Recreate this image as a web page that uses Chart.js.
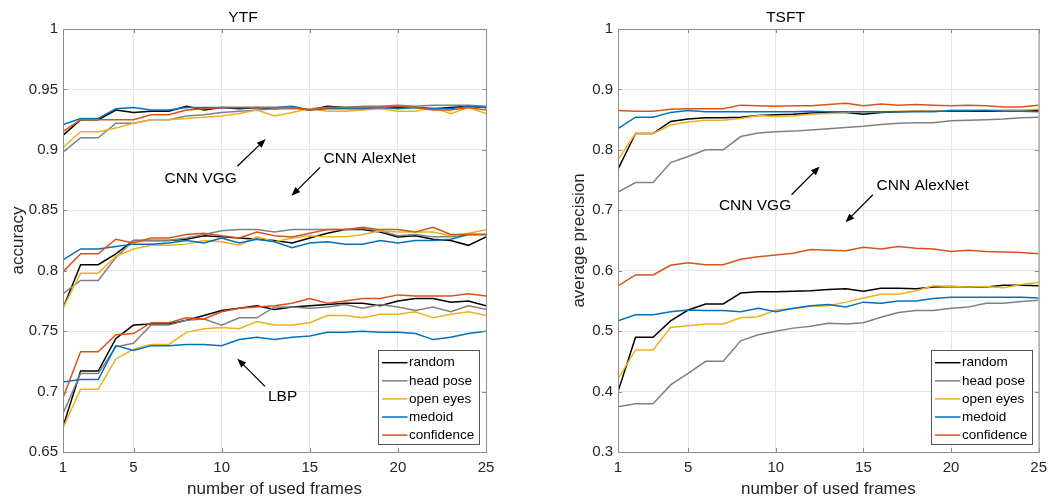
<!DOCTYPE html>
<html>
<head>
<meta charset="utf-8">
<script src="https://cdn.jsdelivr.net/npm/chart.js@4.4.1/dist/chart.umd.min.js"></script>
<style>
  html, body { margin: 0; padding: 0; background: #fff; }
  #wrap { position: relative; width: 1054px; height: 498px; }
  #ytf { position: absolute; left: 0; top: 0; }
  #tsft { position: absolute; left: 530px; top: 0; }
</style>
</head>
<body>
<div id="wrap">
  <canvas id="ytf" width="530" height="498"></canvas>
  <canvas id="tsft" width="524" height="498"></canvas>
</div>
<script>
// x axis: number of used frames
const frames = [1, 2, 3, 4, 5, 6, 7, 8, 9, 10, 11, 12, 13, 14, 15, 16, 17, 18, 19, 20, 21, 22, 23, 24, 25];
const methods = ['random', 'head pose', 'open eyes', 'medoid', 'confidence'];
const xTicks = [1, 5, 10, 15, 20, 25];
const ytfTicks = [0.65, 0.7, 0.75, 0.8, 0.85, 0.9, 0.95, 1];
const tsftTicks = [0.3, 0.4, 0.5, 0.6, 0.7, 0.8, 0.9, 1];

// YTF accuracy, CNN VGG
const ytfVggRandom = [0.912, 0.925, 0.925, 0.933, 0.931, 0.932, 0.932, 0.936, 0.933, 0.935, 0.934, 0.935, 0.934, 0.935, 0.933, 0.936, 0.935, 0.935, 0.935, 0.935, 0.935, 0.934, 0.935, 0.936, 0.935];
const ytfVggHeadPose = [0.898, 0.910, 0.910, 0.922, 0.922, 0.925, 0.925, 0.928, 0.929, 0.931, 0.932, 0.933, 0.934, 0.934, 0.934, 0.935, 0.935, 0.936, 0.936, 0.937, 0.936, 0.937, 0.937, 0.937, 0.936];
const ytfVggOpenEyes = [0.902, 0.915, 0.915, 0.918, 0.922, 0.925, 0.925, 0.926, 0.927, 0.928, 0.930, 0.933, 0.928, 0.931, 0.934, 0.932, 0.932, 0.933, 0.934, 0.932, 0.932, 0.935, 0.930, 0.935, 0.930];
const ytfVggMedoid = [0.921, 0.926, 0.926, 0.934, 0.935, 0.933, 0.933, 0.935, 0.935, 0.935, 0.935, 0.935, 0.935, 0.936, 0.933, 0.934, 0.934, 0.934, 0.935, 0.934, 0.935, 0.934, 0.934, 0.936, 0.935];
const ytfVggConfidence = [0.915, 0.925, 0.925, 0.925, 0.925, 0.929, 0.929, 0.933, 0.934, 0.935, 0.935, 0.935, 0.935, 0.935, 0.933, 0.935, 0.935, 0.935, 0.935, 0.936, 0.935, 0.933, 0.933, 0.935, 0.933];

// YTF accuracy, CNN AlexNet
const ytfAlexRandom = [0.769, 0.805, 0.805, 0.814, 0.825, 0.825, 0.825, 0.826, 0.829, 0.828, 0.827, 0.826, 0.825, 0.823, 0.827, 0.831, 0.834, 0.834, 0.832, 0.828, 0.829, 0.826, 0.825, 0.821, 0.828];
const ytfAlexHeadPose = [0.781, 0.792, 0.792, 0.811, 0.825, 0.825, 0.825, 0.827, 0.830, 0.833, 0.834, 0.834, 0.832, 0.834, 0.834, 0.834, 0.834, 0.835, 0.833, 0.829, 0.830, 0.828, 0.828, 0.830, 0.830];
const ytfAlexOpenEyes = [0.769, 0.798, 0.798, 0.812, 0.818, 0.821, 0.821, 0.822, 0.825, 0.824, 0.821, 0.828, 0.824, 0.827, 0.829, 0.828, 0.828, 0.830, 0.833, 0.832, 0.832, 0.832, 0.829, 0.831, 0.834];
const ytfAlexMedoid = [0.809, 0.818, 0.818, 0.820, 0.822, 0.822, 0.823, 0.825, 0.823, 0.827, 0.823, 0.826, 0.824, 0.819, 0.823, 0.824, 0.822, 0.822, 0.825, 0.823, 0.825, 0.825, 0.826, 0.830, 0.830];
const ytfAlexConfidence = [0.799, 0.814, 0.814, 0.826, 0.823, 0.827, 0.827, 0.830, 0.831, 0.829, 0.827, 0.832, 0.829, 0.828, 0.831, 0.834, 0.834, 0.836, 0.834, 0.834, 0.832, 0.836, 0.830, 0.830, 0.830];

// YTF accuracy, LBP
const ytfLbpRandom = [0.671, 0.717, 0.717, 0.744, 0.755, 0.756, 0.756, 0.759, 0.763, 0.767, 0.769, 0.771, 0.768, 0.770, 0.771, 0.772, 0.773, 0.773, 0.771, 0.775, 0.777, 0.777, 0.774, 0.775, 0.771];
const ytfLbpHeadPose = [0.682, 0.715, 0.715, 0.737, 0.740, 0.755, 0.755, 0.759, 0.760, 0.755, 0.761, 0.761, 0.770, 0.770, 0.769, 0.770, 0.772, 0.769, 0.772, 0.770, 0.767, 0.770, 0.766, 0.771, 0.768];
const ytfLbpOpenEyes = [0.670, 0.702, 0.702, 0.727, 0.735, 0.739, 0.739, 0.749, 0.752, 0.753, 0.752, 0.758, 0.755, 0.755, 0.757, 0.763, 0.763, 0.761, 0.764, 0.764, 0.766, 0.761, 0.764, 0.766, 0.763];
const ytfLbpMedoid = [0.708, 0.710, 0.710, 0.738, 0.734, 0.738, 0.738, 0.739, 0.739, 0.738, 0.743, 0.745, 0.743, 0.745, 0.746, 0.749, 0.749, 0.750, 0.749, 0.749, 0.748, 0.743, 0.745, 0.748, 0.750];
const ytfLbpConfidence = [0.695, 0.733, 0.733, 0.747, 0.748, 0.757, 0.757, 0.761, 0.760, 0.766, 0.769, 0.770, 0.771, 0.773, 0.777, 0.773, 0.775, 0.777, 0.777, 0.780, 0.779, 0.779, 0.779, 0.781, 0.779];

// TSFT average precision, CNN VGG
const tsftVggRandom = [0.768, 0.827, 0.827, 0.847, 0.851, 0.853, 0.853, 0.854, 0.857, 0.858, 0.859, 0.861, 0.862, 0.862, 0.859, 0.862, 0.863, 0.864, 0.864, 0.864, 0.864, 0.864, 0.864, 0.864, 0.865];
const tsftVggHeadPose = [0.730, 0.746, 0.746, 0.779, 0.789, 0.800, 0.800, 0.822, 0.828, 0.830, 0.831, 0.833, 0.835, 0.837, 0.839, 0.842, 0.844, 0.845, 0.845, 0.848, 0.849, 0.850, 0.851, 0.853, 0.854];
const tsftVggOpenEyes = [0.784, 0.827, 0.827, 0.841, 0.846, 0.849, 0.849, 0.852, 0.857, 0.855, 0.856, 0.859, 0.860, 0.862, 0.863, 0.863, 0.864, 0.864, 0.864, 0.865, 0.865, 0.866, 0.866, 0.866, 0.867];
const tsftVggMedoid = [0.835, 0.854, 0.854, 0.862, 0.865, 0.863, 0.863, 0.863, 0.863, 0.863, 0.863, 0.864, 0.863, 0.863, 0.863, 0.863, 0.863, 0.863, 0.863, 0.865, 0.865, 0.865, 0.864, 0.864, 0.863];
const tsftVggConfidence = [0.865, 0.864, 0.864, 0.867, 0.868, 0.868, 0.868, 0.874, 0.873, 0.872, 0.873, 0.873, 0.875, 0.877, 0.873, 0.876, 0.874, 0.875, 0.874, 0.873, 0.874, 0.873, 0.871, 0.871, 0.874];

// TSFT average precision, CNN AlexNet
const tsftAlexRandom = [0.400, 0.490, 0.490, 0.517, 0.535, 0.545, 0.545, 0.563, 0.565, 0.565, 0.566, 0.567, 0.569, 0.570, 0.566, 0.571, 0.571, 0.570, 0.573, 0.574, 0.573, 0.573, 0.576, 0.576, 0.575];
const tsftAlexHeadPose = [0.375, 0.380, 0.380, 0.411, 0.430, 0.450, 0.450, 0.484, 0.494, 0.500, 0.505, 0.508, 0.513, 0.512, 0.514, 0.523, 0.531, 0.534, 0.534, 0.538, 0.540, 0.546, 0.546, 0.549, 0.551];
const tsftAlexOpenEyes = [0.421, 0.469, 0.469, 0.506, 0.509, 0.512, 0.512, 0.522, 0.524, 0.535, 0.537, 0.541, 0.542, 0.548, 0.555, 0.561, 0.561, 0.567, 0.575, 0.574, 0.573, 0.574, 0.572, 0.577, 0.581];
const tsftAlexMedoid = [0.517, 0.527, 0.527, 0.532, 0.535, 0.534, 0.534, 0.532, 0.538, 0.532, 0.538, 0.542, 0.544, 0.540, 0.548, 0.546, 0.550, 0.550, 0.554, 0.556, 0.556, 0.556, 0.556, 0.556, 0.555];
const tsftAlexConfidence = [0.575, 0.593, 0.593, 0.609, 0.613, 0.610, 0.610, 0.619, 0.623, 0.626, 0.629, 0.635, 0.634, 0.633, 0.639, 0.636, 0.640, 0.637, 0.636, 0.632, 0.634, 0.632, 0.631, 0.630, 0.628];

// line colours per method (MATLAB-like palette)
const methodColors = ['#000000', '#808080', '#EDB120', '#0072BD', '#D95319'];
const FONT = "'Liberation Sans', Arial, Helvetica, sans-serif";
const TEXT = '#262626';
const AXIS = '#8c8c8c';

// one dataset per (group, method); confidence is drawn last so it sits on top
function buildDatasets(groups) {
  const sets = [];
  groups.forEach(group => {
    group.forEach((values, m) => {
      sets.push({
        label: methods[m],
        data: frames.map((f, i) => ({ x: f, y: values[i] })),
        borderColor: methodColors[m],
        backgroundColor: methodColors[m],
        borderWidth: 1.5,
        pointRadius: 0,
        tension: 0,
        fill: false,
        order: methods.length - 1 - m,
      });
    });
  });
  return sets;
}

function drawArrow(ctx, x0, y0, x1, y1) {
  const a = Math.atan2(y1 - y0, x1 - x0);
  const len = 9, half = 3.5;
  ctx.beginPath();
  ctx.moveTo(x0, y0);
  ctx.lineTo(x1 - Math.cos(a) * len * 0.7, y1 - Math.sin(a) * len * 0.7);
  ctx.stroke();
  ctx.beginPath();
  ctx.moveTo(x1, y1);
  ctx.lineTo(x1 - len * Math.cos(a) + half * Math.sin(a), y1 - len * Math.sin(a) - half * Math.cos(a));
  ctx.lineTo(x1 - len * Math.cos(a) - half * Math.sin(a), y1 - len * Math.sin(a) + half * Math.cos(a));
  ctx.closePath();
  ctx.fill();
}

// boxed axes with inward tick marks, like MATLAB's "box on"
const axesBox = {
  id: 'axesBox',
  afterDatasetsDraw(chart) {
    const { ctx, chartArea: a, scales: { x, y } } = chart;
    ctx.save();
    ctx.strokeStyle = AXIS;
    ctx.lineWidth = 1;
    ctx.strokeRect(a.left + 0.5, a.top + 0.5, a.right - a.left, a.bottom - a.top);
    ctx.beginPath();
    x.ticks.forEach(t => {
      const px = Math.round(x.getPixelForValue(t.value)) + 0.5;
      ctx.moveTo(px, a.bottom); ctx.lineTo(px, a.bottom - 4);
      ctx.moveTo(px, a.top); ctx.lineTo(px, a.top + 4);
    });
    y.ticks.forEach(t => {
      const py = Math.round(y.getPixelForValue(t.value)) + 0.5;
      ctx.moveTo(a.left, py); ctx.lineTo(a.left + 4, py);
      ctx.moveTo(a.right, py); ctx.lineTo(a.right - 4, py);
    });
    ctx.stroke();
    ctx.restore();
  }
};

// text labels with arrows pointing at the curve groups, in data coordinates
const groupNotes = {
  id: 'groupNotes',
  afterDraw(chart, args, opts) {
    const { ctx, scales: { x, y } } = chart;
    ctx.save();
    ctx.fillStyle = '#000';
    ctx.strokeStyle = '#000';
    ctx.lineWidth = 1.3;
    ctx.font = '15.5px ' + FONT;
    ctx.textAlign = 'center';
    ctx.textBaseline = 'middle';
    (opts.notes || []).forEach(n => {
      ctx.fillText(n.text, x.getPixelForValue(n.at[0]), y.getPixelForValue(n.at[1]));
      drawArrow(ctx,
        x.getPixelForValue(n.from[0]), y.getPixelForValue(n.from[1]),
        x.getPixelForValue(n.to[0]), y.getPixelForValue(n.to[1]));
    });
    ctx.restore();
  }
};

// legend box in the lower right corner of the axes
const cornerLegend = {
  id: 'cornerLegend',
  afterDraw(chart) {
    const { ctx, chartArea: a } = chart;
    const w = 101, h = 94, rowH = 18.1;
    const left = Math.round(a.right - 7 - w), top = Math.round(a.bottom - 8 - h);
    ctx.save();
    ctx.fillStyle = '#fff';
    ctx.fillRect(left, top, w, h);
    ctx.strokeStyle = '#555';
    ctx.lineWidth = 1;
    ctx.strokeRect(left + 0.5, top + 0.5, w, h);
    ctx.font = '13.5px ' + FONT;
    ctx.textBaseline = 'middle';
    ctx.textAlign = 'left';
    methods.forEach((name, i) => {
      const cy = top + 12.7 + i * rowH;
      ctx.strokeStyle = methodColors[i];
      ctx.lineWidth = 1.5;
      ctx.beginPath();
      ctx.moveTo(left + 4, cy);
      ctx.lineTo(left + 29.5, cy);
      ctx.stroke();
      ctx.fillStyle = '#000';
      ctx.fillText(name, left + 31, cy);
    });
    ctx.restore();
  }
};

function makePanel(id, title, yLabel, yTicks, groups, notes, yWidth, yTitlePad, rightPad) {
  return new Chart(document.getElementById(id), {
    type: 'line',
    data: { datasets: buildDatasets(groups) },
    plugins: [axesBox, groupNotes, cornerLegend],
    options: {
      responsive: false,
      animation: false,
      devicePixelRatio: 1,
      layout: { padding: { top: 0, left: 0, right: rightPad, bottom: 0 } },
      plugins: {
        legend: { display: false },
        tooltip: { enabled: false },
        title: {
          display: true,
          text: title,
          color: '#000',
          font: { family: FONT, size: 15.5, weight: 'normal', lineHeight: 1.2 },
          padding: { top: 8, bottom: 2.4 },
        },
        groupNotes: { notes: notes },
      },
      scales: {
        x: {
          type: 'linear',
          min: 1,
          max: 25,
          afterBuildTicks: s => { s.ticks = xTicks.map(v => ({ value: v })); },
          afterFit: s => { s.height = 46; },
          ticks: { color: TEXT, padding: 7, font: { family: FONT, size: 15 }, callback: v => String(v) },
          grid: { color: '#e6e6e6', drawTicks: false },
          border: { display: false },
          title: {
            display: true,
            text: 'number of used frames',
            color: TEXT,
            font: { family: FONT, size: 17, lineHeight: 1 },
            padding: { top: 0, bottom: 0 },
          },
        },
        y: {
          type: 'linear',
          min: yTicks[0],
          max: yTicks[yTicks.length - 1],
          afterBuildTicks: s => { s.ticks = yTicks.map(v => ({ value: v })); },
          afterFit: s => { s.width = yWidth; },
          ticks: { color: TEXT, padding: 5, font: { family: FONT, size: 15 }, callback: v => String(v) },
          grid: { color: '#e6e6e6', drawTicks: false },
          border: { display: false },
          title: {
            display: true,
            text: yLabel,
            color: TEXT,
            font: { family: FONT, size: 17, lineHeight: 1 },
            padding: { top: yTitlePad, bottom: 0 },
          },
        },
      },
    },
  });
}

makePanel('ytf', 'YTF', 'accuracy', ytfTicks, [
  [ytfVggRandom, ytfVggHeadPose, ytfVggOpenEyes, ytfVggMedoid, ytfVggConfidence],
  [ytfAlexRandom, ytfAlexHeadPose, ytfAlexOpenEyes, ytfAlexMedoid, ytfAlexConfidence],
  [ytfLbpRandom, ytfLbpHeadPose, ytfLbpOpenEyes, ytfLbpMedoid, ytfLbpConfidence],
], [
  { text: 'CNN VGG', at: [8.81, 0.876], from: [10.89, 0.8864], to: [12.5, 0.909] },
  { text: 'CNN AlexNet', at: [18.4, 0.8924], from: [15.59, 0.8855], to: [13.96, 0.862] },
  { text: 'LBP', at: [13.46, 0.6955], from: [12.46, 0.7043], to: [10.89, 0.7272] },
], 63, 10, 44);

makePanel('tsft', 'TSFT', 'average precision', tsftTicks, [
  [tsftVggRandom, tsftVggHeadPose, tsftVggOpenEyes, tsftVggMedoid, tsftVggConfidence],
  [tsftAlexRandom, tsftAlexHeadPose, tsftAlexOpenEyes, tsftAlexMedoid, tsftAlexConfidence],
], [
  { text: 'CNN VGG', at: [8.82, 0.7075], from: [10.9, 0.7257], to: [12.51, 0.7726] },
  { text: 'CNN AlexNet', at: [18.38, 0.7406], from: [15.54, 0.7257], to: [13.98, 0.68] },
], 88, 40.5, 13);
</script>
</body>
</html>
